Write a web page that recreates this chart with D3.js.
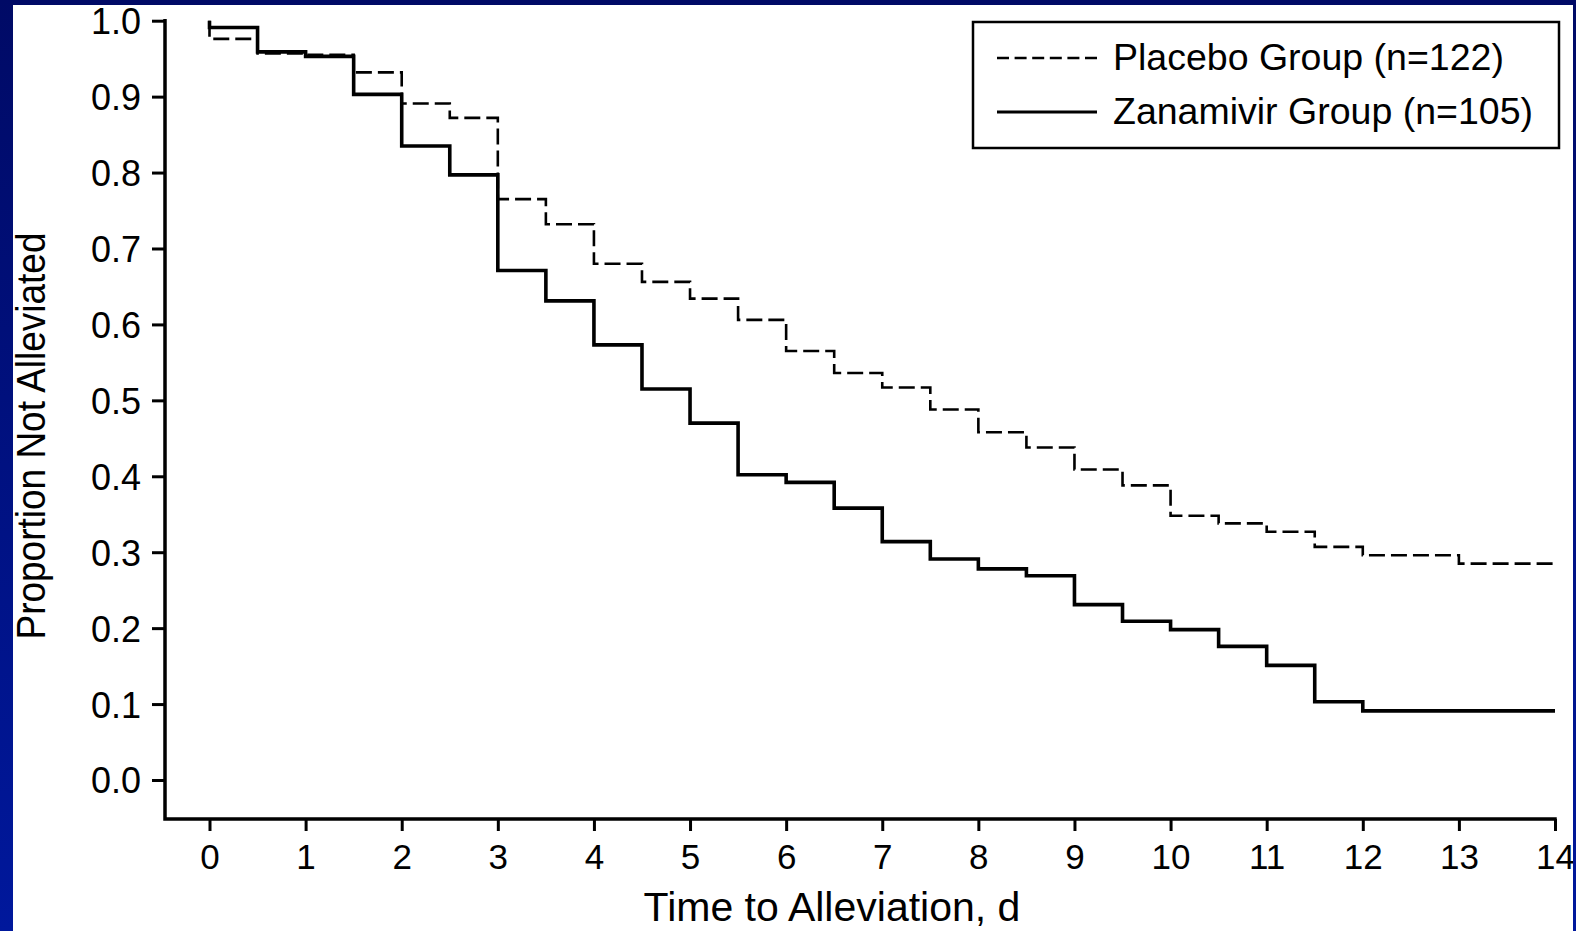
<!DOCTYPE html>
<html>
<head>
<meta charset="utf-8">
<script src="https://cdn.jsdelivr.net/npm/d3@7"></script>
<style>
  html, body { margin: 0; padding: 0; }
  body { width: 1576px; height: 931px; overflow: hidden; }
  text { font-family: "Liberation Sans", Arial, Helvetica, sans-serif; fill: #000; }
</style>
</head>
<body>
<script>
// Kaplan-Meier style step data
const placeboTimes  = [0, 0, 0.5, 1, 1.5, 2, 2.5, 3, 3.5, 4, 4.5, 5, 5.5, 6, 6.5, 7, 7.5, 8, 8.5, 9, 9.5, 10, 10.5, 11, 11.5, 12, 13, 14];
const placeboValues = [1.0, 0.976, 0.957, 0.955, 0.932, 0.891, 0.872, 0.765, 0.732, 0.680, 0.656, 0.634, 0.606, 0.565, 0.536, 0.517, 0.488, 0.458, 0.438, 0.409, 0.388, 0.348, 0.338, 0.327, 0.307, 0.296, 0.285, 0.285];

const zanamivirTimes  = [0, 0, 0.5, 1, 1.5, 2, 2.5, 3, 3.5, 4, 4.5, 5, 5.5, 6, 6.5, 7, 7.5, 8, 8.5, 9, 9.5, 10, 10.5, 11, 11.5, 12, 14];
const zanamivirValues = [1.0, 0.991, 0.959, 0.953, 0.903, 0.835, 0.797, 0.671, 0.631, 0.573, 0.515, 0.470, 0.402, 0.392, 0.358, 0.314, 0.291, 0.278, 0.269, 0.231, 0.209, 0.198, 0.176, 0.151, 0.103, 0.091, 0.091];

const seriesNames = ["Placebo Group (n=122)", "Zanamivir Group (n=105)"];
const xTicks = d3.range(0, 15, 1);
const yTicks = d3.range(0, 11, 1).map(d => d / 10);

const W = 1576, H = 931;

const svg = d3.select("body").append("svg")
  .attr("width", W)
  .attr("height", H);

// blue slide background with white panel
const grad = svg.append("defs").append("linearGradient")
  .attr("id", "bg").attr("x1", 0).attr("y1", 0).attr("x2", 0).attr("y2", 1);
grad.append("stop").attr("offset", "0%").attr("stop-color", "#000a66");
grad.append("stop").attr("offset", "100%").attr("stop-color", "#00189c");

svg.append("rect").attr("width", W).attr("height", H).attr("fill", "url(#bg)");
svg.append("rect").attr("x", 13).attr("y", 5).attr("width", 1560).attr("height", H - 5).attr("fill", "#fff");

// plot frame
const frameLeft = 165, frameBottom = 819;
const x = d3.scaleLinear().domain([0, 14]).range([209.5, 1555]);
const y = d3.scaleLinear().domain([0, 1]).range([780, 20.7]);

// axes
const xAxis = svg.append("g")
  .attr("transform", "translate(0," + frameBottom + ")")
  .call(d3.axisBottom(x).tickValues(xTicks).tickSize(12).tickSizeOuter(0).tickPadding(13).tickFormat(d3.format("d")));
xAxis.select(".domain").remove();
xAxis.selectAll("line").attr("stroke", "#000").attr("stroke-width", 3);
xAxis.selectAll("text").style("font-size", "35px").attr("fill", "#000");

const yAxis = svg.append("g")
  .attr("transform", "translate(" + frameLeft + ",0)")
  .call(d3.axisLeft(y).tickValues(yTicks).tickSize(13).tickSizeOuter(0).tickPadding(11).tickFormat(d3.format(".1f")));
yAxis.select(".domain").remove();
yAxis.selectAll("line").attr("stroke", "#000").attr("stroke-width", 3);
yAxis.selectAll("text").style("font-size", "36px").attr("fill", "#000").attr("dy", "0.36em");

// axis lines
svg.append("path")
  .attr("d", "M" + frameLeft + "," + y(1) + "V" + frameBottom + "H" + x(14))
  .attr("fill", "none")
  .attr("stroke", "#000")
  .attr("stroke-width", 3.5)
  .attr("stroke-linecap", "square");

// step curves
const line = d3.line()
  .x(d => x(d[0]))
  .y(d => y(d[1]))
  .curve(d3.curveStepAfter);

const placebo = placeboTimes.map((t, i) => [t, placeboValues[i]]);
const zanamivir = zanamivirTimes.map((t, i) => [t, zanamivirValues[i]]);

svg.append("path")
  .datum(placebo)
  .attr("d", line)
  .attr("fill", "none")
  .attr("stroke", "#000")
  .attr("stroke-width", 2.6)
  .attr("stroke-dasharray", "16,6");

svg.append("path")
  .datum(zanamivir)
  .attr("d", line)
  .attr("fill", "none")
  .attr("stroke", "#000")
  .attr("stroke-width", 3.6);

// axis titles
svg.append("text")
  .attr("x", 832)
  .attr("y", 921)
  .attr("text-anchor", "middle")
  .style("font-size", "41px")
  .text("Time to Alleviation, d");

svg.append("text")
  .attr("transform", "translate(45,436) rotate(-90)")
  .attr("text-anchor", "middle")
  .attr("textLength", 407)
  .attr("lengthAdjust", "spacingAndGlyphs")
  .style("font-size", "40px")
  .text("Proportion Not Alleviated");

// legend
const legend = svg.append("g");
legend.append("rect")
  .attr("x", 973).attr("y", 22)
  .attr("width", 586).attr("height", 126)
  .attr("fill", "#fff")
  .attr("stroke", "#000")
  .attr("stroke-width", 2.5);

const legendRows = [
  {name: seriesNames[0], dash: "12,5.6", width: 2.4, y: 58},
  {name: seriesNames[1], dash: null, width: 3.2, y: 112}
];
legendRows.forEach(r => {
  legend.append("line")
    .attr("x1", 997).attr("x2", 1097)
    .attr("y1", r.y).attr("y2", r.y)
    .attr("stroke", "#000")
    .attr("stroke-width", r.width)
    .attr("stroke-dasharray", r.dash);
  legend.append("text")
    .attr("x", 1113)
    .attr("y", r.y + 12)
    .style("font-size", "37.5px")
    .text(r.name);
});

// right blue edge drawn on top (clips the "14" label like the original)
svg.append("rect").attr("x", 1573).attr("y", 0).attr("width", 3).attr("height", H).attr("fill", "url(#bg)");
</script>
</body>
</html>
